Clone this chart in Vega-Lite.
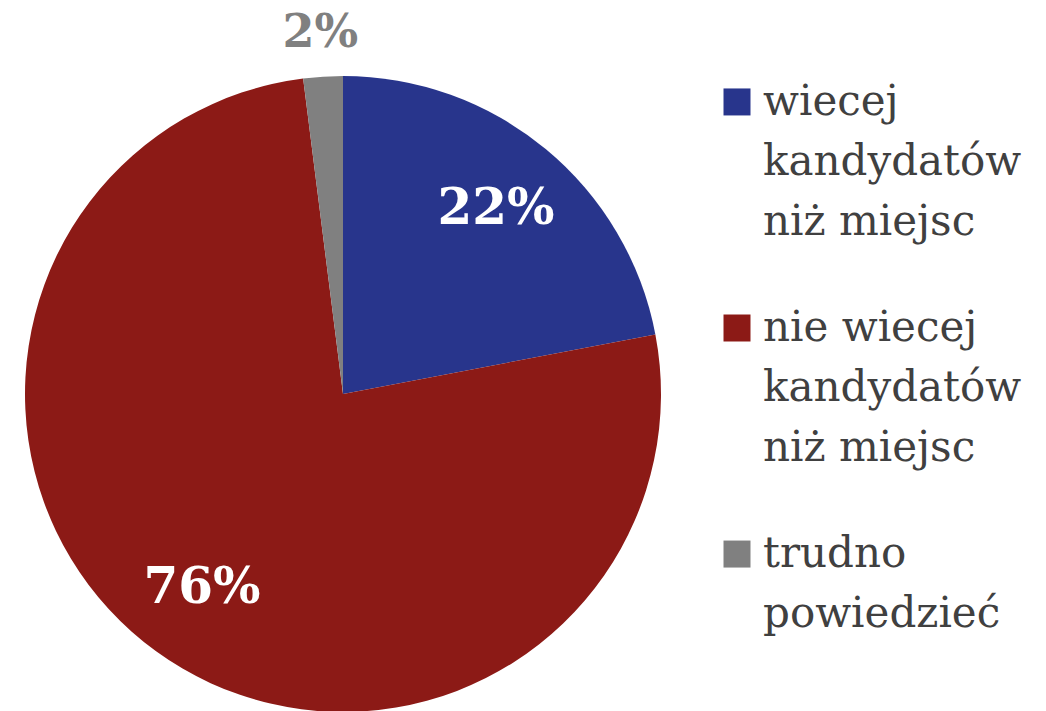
{
  "$schema": "https://vega.github.io/schema/vega-lite/v6.json",
  "padding": 0,
  "background": "white",
  "spacing": 37,
  "config": {"view": {"stroke": null}},
  "data": {"values": [
    {"cat": "wiecej kandydatów niż miejsc", "legend": "wiecej\nkandydatów\nniż miejsc", "value": 22, "label": "22%", "idx": 1},
    {"cat": "nie wiecej kandydatów niż miejsc", "legend": "nie wiecej\nkandydatów\nniż miejsc", "value": 76, "label": "76%", "idx": 2},
    {"cat": "trudno powiedzieć", "legend": "trudno\npowiedzieć", "value": 2, "label": "2%", "idx": 3}
  ]},
  "hconcat": [
    {
      "width": 686,
      "height": 788,
      "encoding": {
        "theta": {"field": "value", "type": "quantitative", "stack": true},
        "order": {"field": "idx", "type": "quantitative"}
      },
      "layer": [
        {
          "mark": {"type": "arc", "radius": 318},
          "encoding": {
            "color": {"field": "cat", "type": "nominal",
              "scale": {"domain": ["wiecej kandydatów niż miejsc", "nie wiecej kandydatów niż miejsc", "trudno powiedzieć"], "range": ["#28358C", "#8C1A16", "#808080"]},
              "legend": null}
          }
        },
        {
          "mark": {"type": "text", "radius": 240, "font": "DejaVu Serif", "fontWeight": "bold", "fontSize": 50, "align": "center", "baseline": "middle", "color": "white"},
          "encoding": {
            "detail": {"field": "cat", "type": "nominal"},
            "text": {"condition": {"test": "datum.idx === 3", "value": ""}, "field": "label", "type": "nominal"}
          }
        },
        {
          "mark": {"type": "text", "radius": 362, "font": "DejaVu Serif", "fontWeight": "bold", "fontSize": 46, "align": "center", "baseline": "middle", "color": "#808080"},
          "encoding": {
            "detail": {"field": "cat", "type": "nominal"},
            "text": {"condition": {"test": "datum.idx !== 3", "value": ""}, "field": "label", "type": "nominal"}
          }
        }
      ]
    },
    {
      "width": 26,
      "height": 656,
      "encoding": {
        "y": {"field": "cat", "type": "nominal",
          "sort": ["wiecej kandydatów niż miejsc", "nie wiecej kandydatów niż miejsc", "trudno powiedzieć"],
          "scale": {"type": "point", "padding": 0.451}, "axis": null}
      },
      "layer": [
        {
          "mark": {"type": "point", "shape": "square", "filled": true, "size": 729, "opacity": 1},
          "encoding": {
            "color": {"field": "cat", "type": "nominal",
              "scale": {"domain": ["wiecej kandydatów niż miejsc", "nie wiecej kandydatów niż miejsc", "trudno powiedzieć"], "range": ["#28358C", "#8C1A16", "#808080"]},
              "legend": null}
          }
        },
        {
          "mark": {"type": "text", "align": "left", "baseline": "alphabetic", "dx": 26, "dy": 13, "lineBreak": "\n", "lineHeight": 60, "font": "DejaVu Serif", "fontSize": 42, "color": "#404040"},
          "encoding": {"text": {"field": "legend", "type": "nominal"}}
        }
      ]
    }
  ]
}
